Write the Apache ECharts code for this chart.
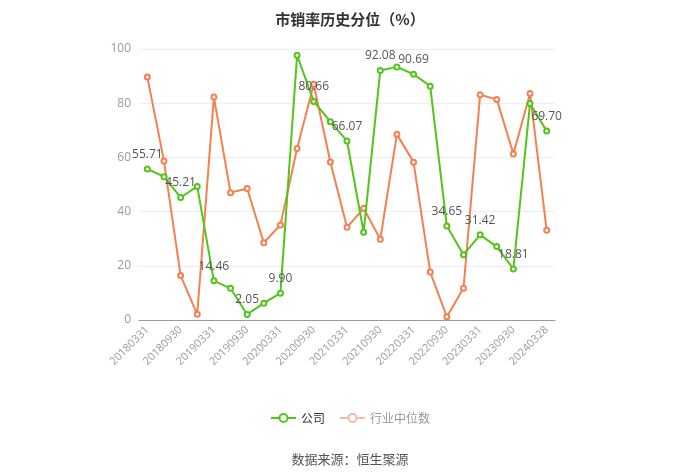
<!DOCTYPE html>
<html><head><meta charset="utf-8">
<script src="https://cdn.jsdelivr.net/npm/echarts@6/dist/echarts.min.js"></script>
<style>html,body{margin:0;padding:0;background:#fff}#c{width:700px;height:473px}</style>
</head><body><div id="c"></div>
<script>
var categories = ['20180331','20180630','20180930','20181231','20190331','20190630','20190930','20191231','20200331','20200630','20200930','20201231','20210331','20210630','20210930','20211231','20220331','20220630','20220930','20221231','20230331','20230630','20230930','20231231','20240328'];
var companyValues = [55.71,52.9,45.21,49.3,14.46,11.7,2.05,6.2,9.90,97.7,80.66,73.2,66.07,32.4,92.08,93.4,90.69,86.3,34.65,24.1,31.42,27.1,18.81,79.9,69.70];
var industryValues = [89.7,58.7,16.4,2.1,82.3,47.0,48.5,28.5,35.1,63.3,87.0,58.3,34.2,41.2,29.8,68.5,58.2,17.7,1.2,11.7,83.1,81.4,61.3,83.6,33.1];
var yTicks = [0,20,40,60,80,100];

var chart = echarts.init(document.getElementById('c'));
chart.setOption({
  animation: false,
  title: [{
    text: '市销率历史分位（%）', left: 'center', top: 7,
    textStyle: {fontSize: 15, fontWeight: 'bold', color: '#333', fontFamily: 'Noto Sans CJK SC'}
  }, {
    text: '数据来源：恒生聚源', left: 'center', top: 448,
    textStyle: {fontSize: 13, fontWeight: 'normal', color: '#555', fontFamily: 'Noto Sans CJK SC'}
  }],
  legend: {
    top: 407, left: 'center', itemWidth: 25, itemHeight: 10, itemGap: 14,
    textStyle: {fontSize: 12, fontFamily: 'Noto Sans CJK SC'},
    data: [
      {name: '公司', textStyle: {color: '#333'}},
      {name: '行业中位数', textStyle: {color: '#999'}, itemStyle: {color: '#f7b9a0'}, lineStyle: {color: '#f7b9a0'}}
    ]
  },
  grid: {left: 139, right: 145, top: 49, bottom: 153},
  xAxis: {
    type: 'category', data: categories, boundaryGap: true,
    axisLine: {lineStyle: {color: '#999'}},
    axisTick: {alignWithLabel: true, interval: 1, lineStyle: {color: '#999'}},
    axisLabel: {interval: 1, rotate: 45, color: '#999', fontSize: 11, fontFamily: 'Open Sans'}
  },
  yAxis: {
    type: 'value', min: yTicks[0], max: yTicks[yTicks.length-1], interval: 20,
    axisLine: {show: false}, axisTick: {show: false},
    axisLabel: {color: '#999', fontSize: 12, fontFamily: 'Open Sans'},
    splitLine: {lineStyle: {color: '#eee'}}
  },
  series: [{
    name: '公司', type: 'line', data: companyValues,
    symbol: 'emptyCircle', symbolSize: 5, z: 3,
    itemStyle: {color: '#52c41a'}, lineStyle: {width: 2, color: '#52c41a'},
    label: {show: true, position: 'top', color: '#555', fontSize: 12, fontFamily: 'Open Sans',
      formatter: function(p){ return p.dataIndex % 2 === 0 ? p.value.toFixed(2) : ''; }}
  }, {
    name: '行业中位数', type: 'line', data: industryValues,
    symbol: 'emptyCircle', symbolSize: 5, z: 2,
    itemStyle: {color: '#f5804f'}, lineStyle: {width: 2, color: '#f5804f'}
  }]
});
</script></body></html>
